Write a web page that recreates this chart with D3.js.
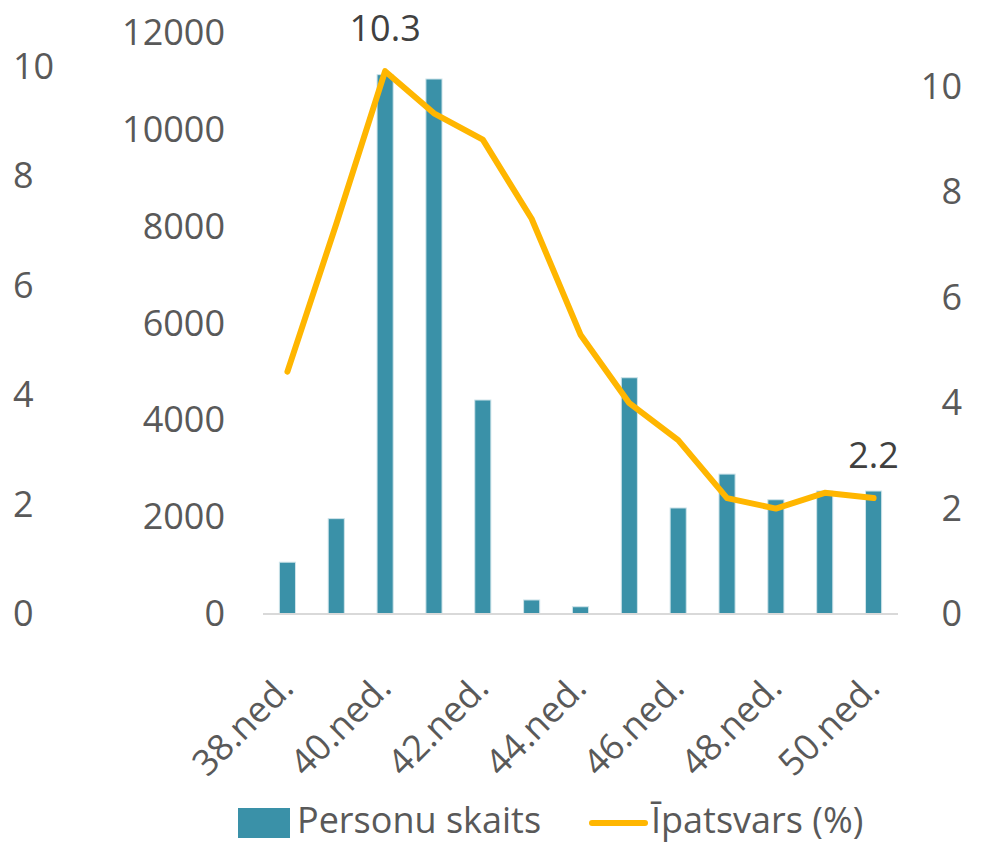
<!DOCTYPE html>
<html>
<head>
<meta charset="utf-8">
<script src="https://cdn.jsdelivr.net/npm/d3@7"></script>
<style>
  body { margin: 0; background: #fff; }
  svg text { font-family: "Open Sans", "Noto Sans", sans-serif; }
</style>
</head>
<body>
<div id="chart"></div>
<script>
// weeks on the x axis
var weeks = ["38.ned.", "39.ned.", "40.ned.", "41.ned.", "42.ned.", "43.ned.", "44.ned.",
             "45.ned.", "46.ned.", "47.ned.", "48.ned.", "49.ned.", "50.ned."];
// bars - number of persons
var persons = [1070, 1970, 11140, 11050, 4420, 290, 150, 4880, 2190, 2890, 2360, 2540, 2540];
// line - share in %
var share = [4.6, 7.4, 10.3, 9.5, 9.0, 7.5, 5.3, 4.0, 3.3, 2.2, 2.0, 2.3, 2.2];
var shownWeeks = ["38.ned.", "40.ned.", "42.ned.", "44.ned.", "46.ned.", "48.ned.", "50.ned."];
var leftTicks = [0, 2, 4, 6, 8, 10];
var barTicks = [0, 2000, 4000, 6000, 8000, 10000, 12000];
var rightTicks = [0, 2, 4, 6, 8, 10];
var labelled = ["40.ned.", "50.ned."];
var seriesNames = ["Personu skaits", "Īpatsvars (%)"];

var W = 986, H = 843;
var barColor = "#3a91a8", lineColor = "#ffb600", textColor = "#595959";
var font = "'Open Sans', 'Noto Sans', sans-serif";

var svg = d3.select("#chart").append("svg")
  .attr("width", W).attr("height", H);

var x = d3.scaleBand().domain(weeks).range([263, 898])
  .paddingInner(0.67).paddingOuter(0.335);
var yBar = d3.scaleLinear().domain([0, 12000]).range([614, 33]);
var yLine = d3.scaleLinear().domain([0, 10]).range([614, 87]);
var yLeft = d3.scaleLinear().domain([0, 10]).range([614, 67]);

// axes (labels only)
function styleAxis(g) {
  g.attr("font-family", font).attr("font-size", 36);
  g.select(".domain").remove();
  g.selectAll("text").attr("fill", textColor);
}
svg.append("g").attr("transform", "translate(13,0)")
  .call(d3.axisRight(yLeft).tickValues(leftTicks).tickSize(0).tickPadding(0))
  .call(styleAxis);
svg.append("g").attr("transform", "translate(225,0)")
  .call(d3.axisLeft(yBar).tickValues(barTicks).tickFormat(d3.format("d")).tickSize(0).tickPadding(0))
  .call(styleAxis);
svg.append("g").attr("transform", "translate(962,0)")
  .call(d3.axisLeft(yLine).tickValues(rightTicks).tickSize(0).tickPadding(0))
  .call(styleAxis);

// bars
svg.append("g").selectAll("rect")
  .data(persons)
  .enter().append("rect")
  .attr("x", function(d, i) { return x(weeks[i]); })
  .attr("width", x.bandwidth())
  .attr("y", function(d) { return yBar(d); })
  .attr("height", function(d) { return yBar(0) - yBar(d); })
  .attr("fill", barColor)
  .attr("stroke", "#cfe4ea")
  .attr("stroke-width", 1);

// baseline
svg.append("line")
  .attr("x1", 263).attr("x2", 898)
  .attr("y1", yBar(0)).attr("y2", yBar(0))
  .attr("stroke", "#d9d9d9").attr("stroke-width", 2);

// line
var line = d3.line()
  .x(function(d, i) { return x(weeks[i]) + x.bandwidth() / 2; })
  .y(function(d) { return yLine(d); });
svg.append("path")
  .datum(share)
  .attr("d", line)
  .attr("fill", "none")
  .attr("stroke", lineColor)
  .attr("stroke-width", 6)
  .attr("stroke-linejoin", "round")
  .attr("stroke-linecap", "round");

// data labels
svg.append("g").selectAll("text")
  .data(labelled)
  .enter().append("text")
  .attr("x", function(d) { return x(d) + x.bandwidth() / 2; })
  .attr("y", function(d) { return yLine(share[weeks.indexOf(d)]) - 30; })
  .attr("text-anchor", "middle")
  .attr("fill", "#404040")
  .style("font-size", "36px")
  .text(function(d) { return share[weeks.indexOf(d)]; });

// x labels
svg.append("g").selectAll("text")
  .data(shownWeeks)
  .enter().append("text")
  .attr("transform", function(d) {
    return "translate(" + (x(d) + x.bandwidth() / 2 + 8) + ",690) rotate(-45)";
  })
  .attr("text-anchor", "end")
  .attr("fill", textColor)
  .style("font-size", "36px")
  .text(function(d) { return d; });

// legend
var legend = svg.append("g");
legend.append("rect")
  .attr("x", 238).attr("y", 808).attr("width", 52).attr("height", 30)
  .attr("fill", barColor);
legend.append("text")
  .attr("x", 297).attr("y", 833)
  .attr("fill", textColor).style("font-size", "36px")
  .text(seriesNames[0]);
legend.append("line")
  .attr("x1", 592).attr("x2", 645).attr("y1", 823).attr("y2", 823)
  .attr("stroke", lineColor).attr("stroke-width", 6).attr("stroke-linecap", "round");
legend.append("text")
  .attr("x", 651).attr("y", 833)
  .attr("fill", textColor).style("font-size", "36px")
  .text(seriesNames[1]);
</script>
</body>
</html>
